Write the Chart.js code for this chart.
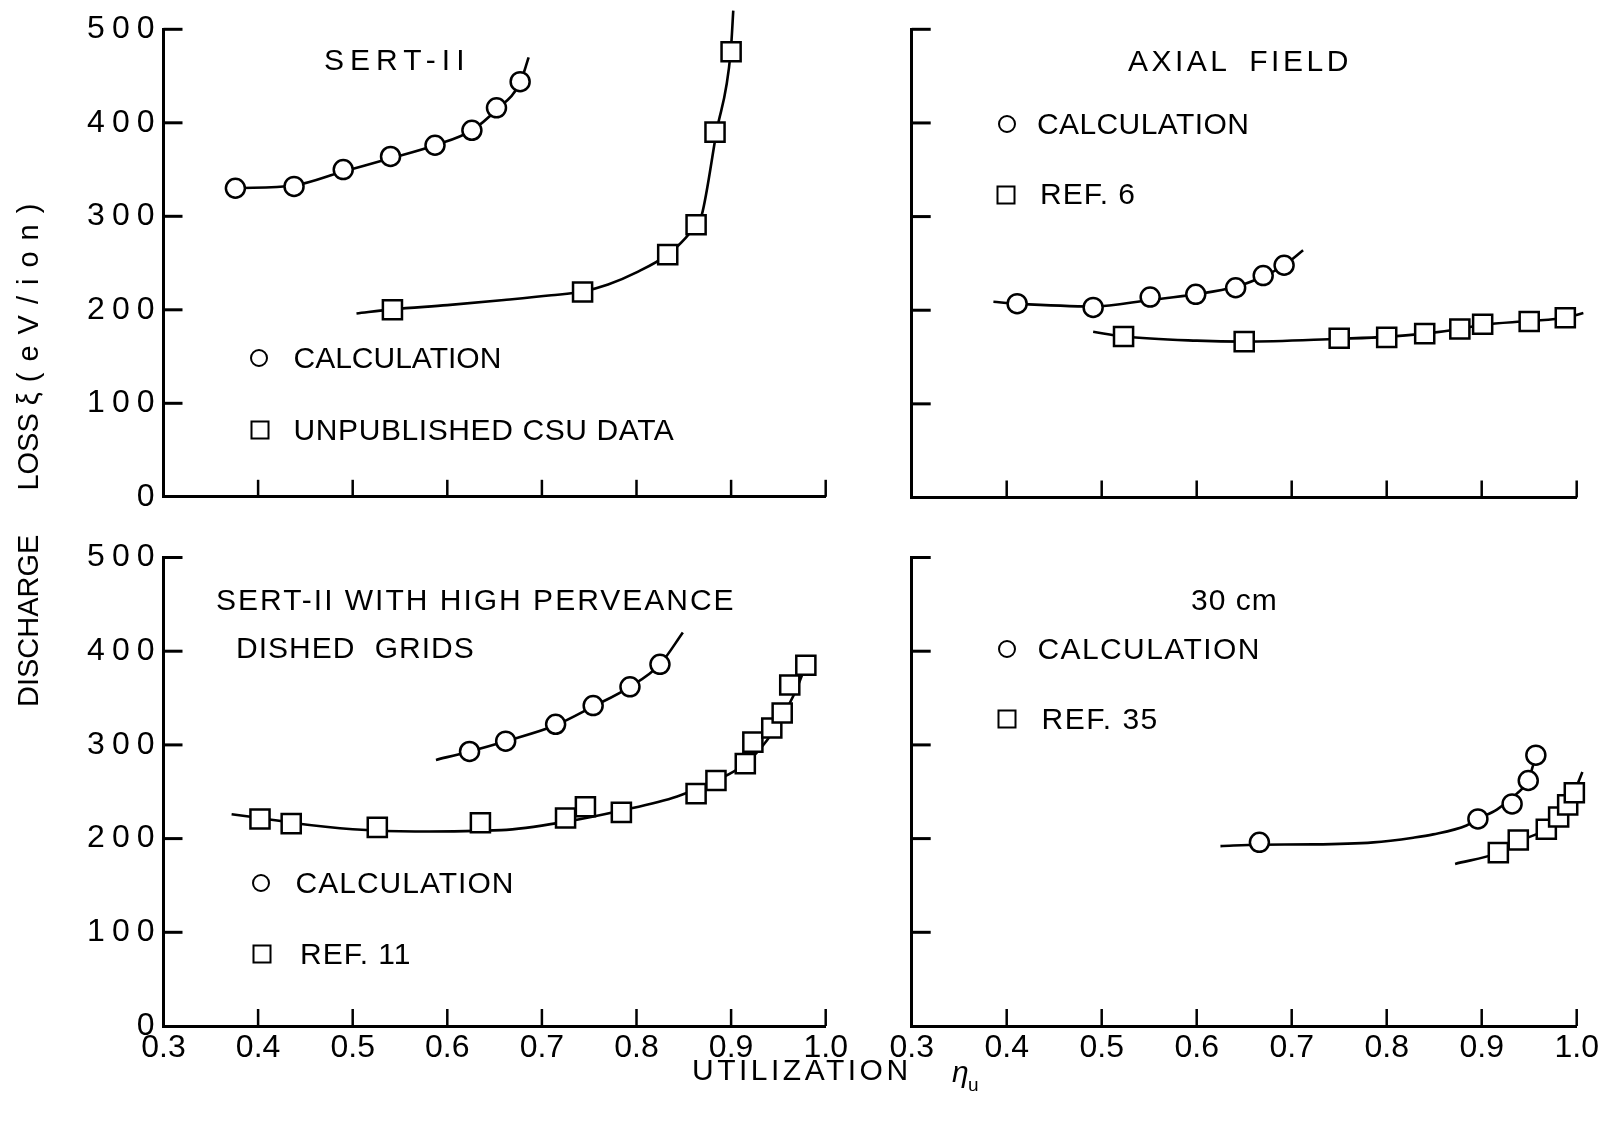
<!DOCTYPE html>
<html><head><meta charset="utf-8">
<script src="https://cdn.jsdelivr.net/npm/chart.js@4/dist/chart.umd.min.js"></script>
<style>
html,body{margin:0;padding:0;background:#fff;}
#page{position:relative;width:1606px;height:1126px;overflow:hidden;background:#fff;font-family:'Liberation Sans',Arial,sans-serif;color:#000;}
canvas.panel{position:absolute;left:0;top:0;}
.t{position:absolute;white-space:nowrap;font-size:30px;line-height:30px;transform:translateY(-50%);}
.mk{position:absolute;box-sizing:border-box;border:2.5px solid #000;background:#fff;transform:translate(-50%,-50%);}
.mk.c{width:18px;height:18px;border-radius:50%;}
.mk.s{width:19px;height:19px;}
#ytitle{position:absolute;left:12.6px;top:707px;transform-origin:0 0;transform:rotate(-90deg);white-space:nowrap;font-size:29px;line-height:30px;height:30px;}
</style></head>
<body><div id="page">
<canvas id="cTL" class="panel" width="1606" height="1126"></canvas>
<canvas id="cTR" class="panel" width="1606" height="1126"></canvas>
<canvas id="cBL" class="panel" width="1606" height="1126"></canvas>
<canvas id="cBR" class="panel" width="1606" height="1126"></canvas>

<!-- top left -->
<div class="t" style="left:324px;top:60px;letter-spacing:6px">SERT-II</div>
<div class="mk c" style="left:258.5px;top:358px"></div>
<div class="t" style="left:293.5px;top:358px">CALCULATION</div>
<div class="mk s" style="left:260px;top:430px"></div>
<div class="t" style="left:293.5px;top:430px;letter-spacing:0.6px">UNPUBLISHED CSU DATA</div>

<!-- top right -->
<div class="t" style="left:1128px;top:61px;letter-spacing:3.5px;word-spacing:8px">AXIAL FIELD</div>
<div class="mk c" style="left:1007px;top:124px"></div>
<div class="t" style="left:1037px;top:124px;letter-spacing:0.4px">CALCULATION</div>
<div class="mk s" style="left:1006px;top:195px"></div>
<div class="t" style="left:1040px;top:194px;letter-spacing:1px">REF. 6</div>

<!-- bottom left -->
<div class="t" style="left:216px;top:600px;letter-spacing:2px">SERT-II WITH HIGH PERVEANCE</div>
<div class="t" style="left:236px;top:648px;letter-spacing:1px;word-spacing:10px">DISHED GRIDS</div>
<div class="mk c" style="left:260.5px;top:883px"></div>
<div class="t" style="left:295.6px;top:883px;letter-spacing:1px">CALCULATION</div>
<div class="mk s" style="left:262px;top:954px"></div>
<div class="t" style="left:300px;top:954px;letter-spacing:1px">REF. 11</div>

<!-- bottom right -->
<div class="t" style="left:1191px;top:600px;letter-spacing:1px">30 cm</div>
<div class="mk c" style="left:1007px;top:649px"></div>
<div class="t" style="left:1037.5px;top:649px;letter-spacing:1.4px">CALCULATION</div>
<div class="mk s" style="left:1007px;top:719px"></div>
<div class="t" style="left:1041.6px;top:719px;letter-spacing:1.5px">REF. 35</div>

<!-- axis titles -->
<div id="ytitle"><span>DISCHARGE</span><span style="margin-left:44px">LOSS</span><span style="margin-left:8px">ξ</span><span style="margin-left:10px;letter-spacing:11px">(eV/ion)</span></div>
<div class="t" style="left:692px;top:1070px;letter-spacing:3.5px">UTILIZATION</div>
<div class="t" style="left:952px;top:1072px;font-style:italic">η</div>
<div class="t" style="left:968px;top:1084px;font-size:19px;line-height:19px">u</div>
</div>

<script>
// ---- tick values / labels ----
const xTickValues = [0.3, 0.4, 0.5, 0.6, 0.7, 0.8, 0.9, 1.0];
const xTickLabels = ['0.3', '0.4', '0.5', '0.6', '0.7', '0.8', '0.9', '1.0'];
const yTickValues = [0, 100, 200, 300, 400, 500];
const yTickLabels = ['0', '100', '200', '300', '400', '500'];

// ---- SERT-II (top left) ----
const sertCalcX = [0.376, 0.438, 0.490, 0.540, 0.587, 0.626, 0.652, 0.677];
const sertCalcY = [330, 332, 350, 364, 376, 392, 416, 444];
const sertCalcFitX = [0.376, 0.438, 0.490, 0.540, 0.587, 0.626, 0.652, 0.677, 0.686];
const sertCalcFitY = [330, 333, 348, 362, 376, 392, 414, 443, 470];
const sertCsuX = [0.542, 0.743, 0.833, 0.863, 0.883, 0.900];
const sertCsuY = [200, 219, 259, 291, 390, 476];
const sertCsuFitX = [0.504, 0.542, 0.600, 0.660, 0.710, 0.743, 0.770, 0.800, 0.833, 0.852, 0.863, 0.869, 0.8845, 0.8996, 0.9023];
const sertCsuFitY = [196, 200.5, 205, 210.5, 215.5, 219.5, 227, 240, 259, 277, 291, 301.5, 390, 476, 520];

// ---- Axial field (top right) ----
const axialCalcX = [0.411, 0.491, 0.551, 0.599, 0.641, 0.670, 0.692];
const axialCalcY = [207, 203, 214, 217, 224, 237, 248];
const axialCalcFitX = [0.386, 0.411, 0.491, 0.551, 0.599, 0.641, 0.670, 0.692, 0.712];
const axialCalcFitY = [209, 207, 204, 211, 217, 225, 236, 248, 264];
const axialRefX = [0.523, 0.650, 0.750, 0.800, 0.840, 0.877, 0.901, 0.950, 0.988];
const axialRefY = [172, 166.5, 170, 171, 175, 180, 185, 188, 192];
const axialRefFitX = [0.491, 0.523, 0.600, 0.650, 0.750, 0.800, 0.840, 0.877, 0.901, 0.950, 0.988, 1.007];
const axialRefFitY = [177, 172, 167.5, 166.5, 169.5, 171.5, 175, 180, 184.5, 188.5, 192, 197];

// ---- SERT-II high perveance dished grids (bottom left) ----
const hpCalcX = [0.6235, 0.6617, 0.7145, 0.7542, 0.7931, 0.8248];
const hpCalcY = [293, 304, 322, 342, 362, 386];
const hpCalcFitX = [0.588, 0.6235, 0.6617, 0.7145, 0.7542, 0.7931, 0.8248, 0.849];
const hpCalcFitY = [284, 293, 304, 321, 341, 362, 386, 420];
const hpRefX = [0.402, 0.435, 0.526, 0.635, 0.725, 0.746, 0.784, 0.863, 0.884, 0.915, 0.923, 0.943, 0.954, 0.962, 0.979];
const hpRefY = [221, 216, 212, 217, 222, 234, 228, 248, 262, 280, 303, 318, 334, 364, 385];
const hpRefFitX = [0.372, 0.402, 0.435, 0.500, 0.566, 0.657, 0.725, 0.784, 0.843, 0.884, 0.915, 0.938, 0.955, 0.968, 0.979];
const hpRefFitY = [226, 222, 217, 210, 207.5, 209, 218, 230, 245, 262, 280, 305, 332, 357, 385];

// ---- 30 cm (bottom right) ----
const cm30CalcX = [0.666, 0.896, 0.932, 0.949, 0.957];
const cm30CalcY = [196, 221, 237, 262, 289];
const cm30CalcFitX = [0.625, 0.666, 0.723, 0.786, 0.828, 0.849, 0.884, 0.896, 0.916, 0.937, 0.949, 0.954, 0.957];
const cm30CalcFitY = [192, 193.5, 193.8, 196, 201, 204.5, 214, 221, 231, 248, 262, 278, 289];
const cm30RefX = [0.9175, 0.9385, 0.968, 0.981, 0.9905, 0.9975];
const cm30RefY = [185, 198.5, 210, 223, 236, 249];
const cm30RefFitX = [0.872, 0.9175, 0.9385, 0.968, 0.981, 0.9905, 0.9975, 1.006];
const cm30RefFitY = [173, 185, 197, 210, 222, 236, 250, 271];

// ---------------------------------------------------------------
Chart.defaults.font.family = "'Liberation Sans', Arial, sans-serif";
Chart.defaults.color = '#000';

const pts = (xs, ys) => xs.map((x, i) => ({x: x, y: ys[i]}));

function curve(xs, ys) {
  return {data: pts(xs, ys), showLine: true, pointRadius: 0, borderColor: '#000',
          borderWidth: 2.6, cubicInterpolationMode: 'monotone', clip: false, fill: false};
}
function markers(xs, ys, style) {
  const sq = style === 'rect';
  return {data: pts(xs, ys), showLine: false, pointStyle: style,
          pointRadius: sq ? 13.5 : 9.5, pointBorderWidth: 2.5,
          pointBackgroundColor: '#fff', pointBorderColor: '#000', clip: false};
}

const inwardTicks = {
  id: 'inwardTicks',
  beforeDraw(chart) {
    const s = chart.scales.y;
    if (!s.__ls) {
      const orig = s.drawLabels;
      s.drawLabels = function (area) {
        this.ctx.save();
        this.ctx.letterSpacing = '7px';
        orig.call(this, area);
        this.ctx.restore();
      };
      s.__ls = true;
    }
  },
  afterDraw(chart) {
    const {ctx, chartArea: a, scales: {x, y}} = chart;
    ctx.save();
    ctx.strokeStyle = '#000';
    ctx.lineWidth = 3;
    y.ticks.forEach(t => {
      if (t.value === 0) return;
      const py = y.getPixelForValue(t.value);
      ctx.beginPath(); ctx.moveTo(a.left, py); ctx.lineTo(a.left + 19, py); ctx.stroke();
    });
    ctx.lineWidth = 2.5;
    x.ticks.forEach(t => {
      if (t.value === 0.3) return;
      const px = x.getPixelForValue(t.value);
      ctx.beginPath(); ctx.moveTo(px, a.bottom); ctx.lineTo(px, a.bottom - 17); ctx.stroke();
    });
    ctx.restore();
  }
};

function makePanel(id, area, showX, showY, datasets) {
  const xH = showX ? 40 : 0;
  const yW = showY ? area.left : 0;
  new Chart(document.getElementById(id), {
    type: 'scatter',
    data: {datasets: datasets},
    plugins: [inwardTicks],
    options: {
      responsive: false, animation: false, devicePixelRatio: 1, events: [],
      layout: {padding: {left: area.left - yW, top: area.top, right: 1606 - area.right, bottom: 1126 - area.bottom - xH}},
      plugins: {legend: {display: false}, tooltip: {enabled: false}, title: {display: false}},
      scales: {
        x: {
          type: 'linear', min: 0.3, max: 1.0,
          afterBuildTicks: s => { s.ticks = xTickValues.map(v => ({value: v})); },
          afterFit: s => { s.height = xH; },
          grid: {drawOnChartArea: false, drawTicks: false},
          border: {display: true, color: '#000', width: 3},
          ticks: {display: showX, padding: 3, maxRotation: 0, autoSkip: false,
                  font: {size: 32}, color: '#000',
                  callback: (v, i) => xTickLabels[i]}
        },
        y: {
          type: 'linear', min: 0, max: 500,
          afterBuildTicks: s => { s.ticks = yTickValues.map(v => ({value: v})); },
          afterFit: s => { s.width = yW; },
          grid: {drawOnChartArea: false, drawTicks: false},
          border: {display: true, color: '#000', width: 3},
          ticks: {display: showY, padding: 2, font: {size: 32}, color: '#000',
                  callback: (v, i) => yTickLabels[i]}
        }
      }
    }
  });
}

makePanel('cTL', {left: 163.5, top: 29.3, right: 825.7, bottom: 496.8}, false, true, [
  markers(sertCalcX, sertCalcY, 'circle'),
  markers(sertCsuX, sertCsuY, 'rect'),
  curve(sertCalcFitX, sertCalcFitY),
  curve(sertCsuFitX, sertCsuFitY)
]);
makePanel('cTR', {left: 911.7, top: 29.3, right: 1576.7, bottom: 497.5}, false, false, [
  markers(axialCalcX, axialCalcY, 'circle'),
  markers(axialRefX, axialRefY, 'rect'),
  curve(axialCalcFitX, axialCalcFitY),
  curve(axialRefFitX, axialRefFitY)
]);
makePanel('cBL', {left: 163.5, top: 557.5, right: 825.7, bottom: 1026}, true, true, [
  markers(hpCalcX, hpCalcY, 'circle'),
  markers(hpRefX, hpRefY, 'rect'),
  curve(hpCalcFitX, hpCalcFitY),
  curve(hpRefFitX, hpRefFitY)
]);
makePanel('cBR', {left: 911.7, top: 557.5, right: 1576.7, bottom: 1026}, true, false, [
  markers(cm30CalcX, cm30CalcY, 'circle'),
  markers(cm30RefX, cm30RefY, 'rect'),
  curve(cm30CalcFitX, cm30CalcFitY),
  curve(cm30RefFitX, cm30RefFitY)
]);
</script>
</body></html>
